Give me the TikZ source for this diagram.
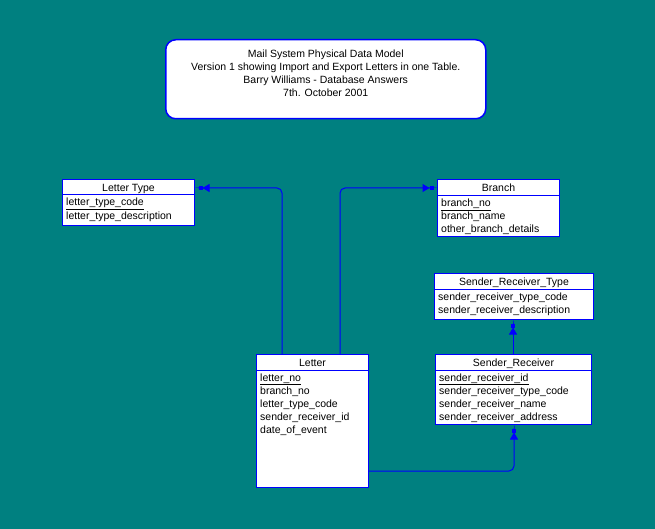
\documentclass[tikz,border=0pt]{standalone}
\usepackage{fontspec}
\setmainfont{Liberation Sans}
\usetikzlibrary{arrows.meta,calc}
\definecolor{bgteal}{RGB}{0,128,128}
\definecolor{erblue}{RGB}{0,0,255}
\begin{document}
\begin{tikzpicture}[x=1pt,y=-1pt,
  font=\fontsize{10.5}{13}\selectfont,
  table/.style={draw=erblue, fill=white, line width=1pt, inner sep=0pt, anchor=north west},
  tabtitle/.style={anchor=base, inner sep=0pt},
  attr/.style={anchor=base west, inner sep=0pt},
  rule/.style={draw=erblue, line width=1pt},
  fk/.style={draw=erblue, line width=1pt, rounded corners=5pt,
    -{Triangle[length=7pt,width=8pt]Rectangle[length=4pt,width=3.5pt]Rectangle[length=3.5pt,width=1pt]}},
  note/.style={draw=erblue, fill=white, line width=1.5pt, rounded corners=10pt,
    anchor=north west, minimum width=320, minimum height=79, inner sep=0pt, align=center}]

% canvas
\fill[bgteal] (0,0) rectangle (655,529);
\useasboundingbox (0,0) rectangle (655,529);

% header note
\node[note] (note) at (165,39) {};
\node[align=center, inner sep=0pt, anchor=north] (notetext) at ($(note.north)+(0,11)$)
  {Mail System Physical Data Model\\
   Version 1 showing Import and Export Letters in one Table.\\
   Barry Williams - Database Answers\\
   7th. October 2001};

% Letter Type
\node[table, minimum width=132, minimum height=46] (lt) at (62,179) {};
\node[tabtitle] (lt-t) at ($(lt.north)+(0,12.5)$) {Letter Type};
\draw[rule] ($(lt.north west)+(0,16)$) -- ($(lt.north east)+(0,16)$);
\node[attr] (lt-a1) at ($(lt.north west)+(4,27)$) {\underline{letter\_type\_code}};
\node[attr] (lt-a2) at ($(lt.north west)+(4,40)$) {letter\_type\_description};

% Branch
\node[table, minimum width=122, minimum height=57] (br) at (437,179) {};
\node[tabtitle] (br-t) at ($(br.north)+(0,12.5)$) {Branch};
\draw[rule] ($(br.north west)+(0,16.5)$) -- ($(br.north east)+(0,16.5)$);
\node[attr] (br-a1) at ($(br.north west)+(4,27.5)$) {\underline{branch\_no}};
\node[attr] (br-a2) at ($(br.north west)+(4,40.5)$) {branch\_name};
\node[attr] (br-a3) at ($(br.north west)+(4,53.5)$) {other\_branch\_details};

% Sender_Receiver_Type
\node[table, minimum width=159, minimum height=46] (srt) at (434,273) {};
\node[tabtitle] (srt-t) at ($(srt.north)+(0,12.5)$) {Sender\_Receiver\_Type};
\draw[rule] ($(srt.north west)+(0,16)$) -- ($(srt.north east)+(0,16)$);
\node[attr] (srt-a1) at ($(srt.north west)+(4,27)$) {sender\_receiver\_type\_code};
\node[attr] (srt-a2) at ($(srt.north west)+(4,40)$) {sender\_receiver\_description};

% Sender_Receiver
\node[table, minimum width=156, minimum height=70] (sr) at (435,354) {};
\node[tabtitle] (sr-t) at ($(sr.north)+(0,12.5)$) {Sender\_Receiver};
\draw[rule] ($(sr.north west)+(0,16)$) -- ($(sr.north east)+(0,16)$);
\node[attr] (sr-a1) at ($(sr.north west)+(4,27)$) {\underline{sender\_receiver\_id}};
\node[attr] (sr-a2) at ($(sr.north west)+(4,40)$) {sender\_receiver\_type\_code};
\node[attr] (sr-a3) at ($(sr.north west)+(4,53)$) {sender\_receiver\_name};
\node[attr] (sr-a4) at ($(sr.north west)+(4,66)$) {sender\_receiver\_address};

% Letter
\node[table, minimum width=112, minimum height=133] (le) at (256,354) {};
\node[tabtitle] (le-t) at ($(le.north)+(0,12.5)$) {Letter};
\draw[rule] ($(le.north west)+(0,16)$) -- ($(le.north east)+(0,16)$);
\node[attr] (le-a1) at ($(le.north west)+(4,27)$) {\underline{letter\_no}};
\node[attr] (le-a2) at ($(le.north west)+(4,40)$) {branch\_no};
\node[attr] (le-a3) at ($(le.north west)+(4,53)$) {letter\_type\_code};
\node[attr] (le-a4) at ($(le.north west)+(4,66)$) {sender\_receiver\_id};
\node[attr] (le-a5) at ($(le.north west)+(4,79)$) {date\_of\_event};

% relationship end points
\coordinate (le-lt) at ($(le.north west)+(26,0)$);
\coordinate (lt-in) at ($(lt.north east)+(0,9)$);
\coordinate (le-br) at ($(le.north west)+(84,0)$);
\coordinate (br-in) at ($(br.north west)+(0,9)$);
\coordinate (sr-srt) at ($(sr.north west)+(78,0)$);
\coordinate (le-sr) at ($(le.north east)+(0,117)$);
\coordinate (sr-in) at ($(sr.south west)+(79,0)$);

% relationships
\draw[fk] (le-lt) |- (lt-in);
\draw[fk] (le-br) |- (br-in);
\draw[fk] (sr-srt) -- (sr-srt |- srt.south);
\draw[fk] (le-sr) -| (sr-in);
\end{tikzpicture}
\end{document}
